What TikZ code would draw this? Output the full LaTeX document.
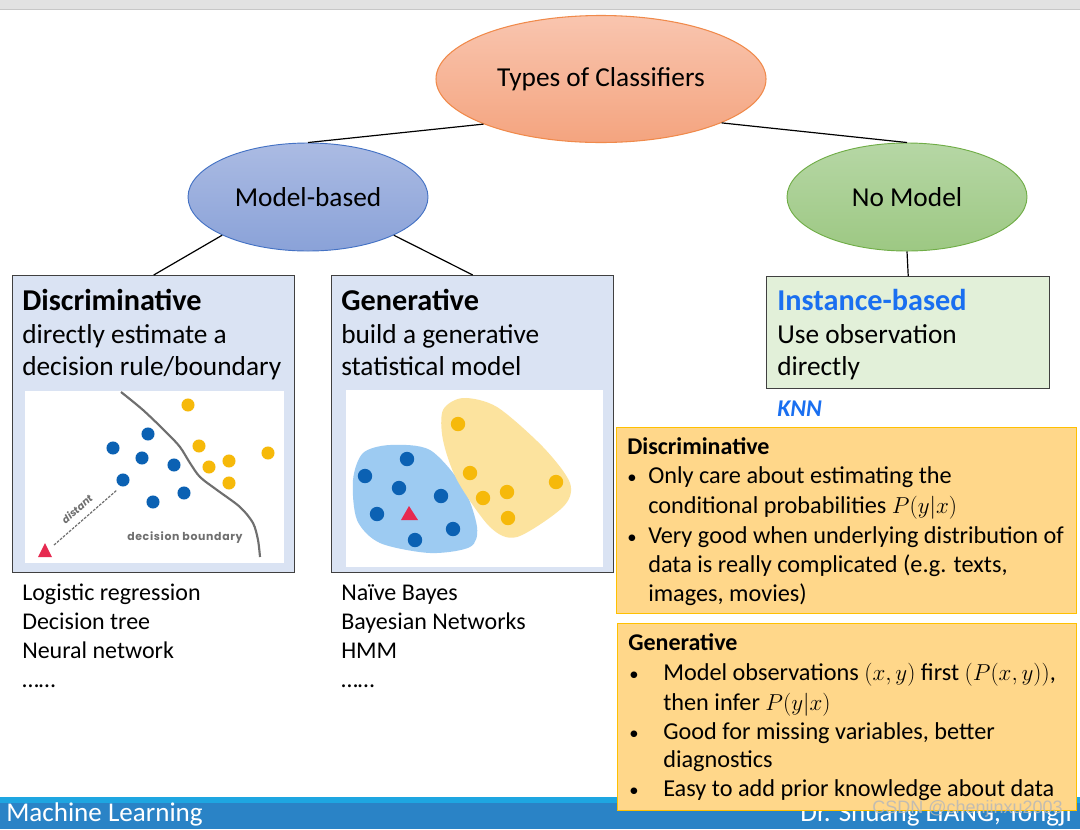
\documentclass[tikz,border=0pt]{standalone}
\usepackage{fontspec}
\setmainfont{Carlito}
\newfontfamily\geo{Poppins}
\newfontfamily\wm{Liberation Sans}
\usetikzlibrary{shapes.geometric}
\definecolor{salmonT}{HTML}{F9C5AF}
\definecolor{salmonB}{HTML}{F4A47F}
\definecolor{salmonD}{HTML}{F08A4B}
\definecolor{blueT}{HTML}{ABBBE3}
\definecolor{blueB}{HTML}{8AA2D8}
\definecolor{blueD}{HTML}{4472C4}
\definecolor{greenT}{HTML}{B6D7A5}
\definecolor{greenB}{HTML}{9DC883}
\definecolor{greenD}{HTML}{70AD47}
\definecolor{boxblue}{HTML}{DAE3F3}
\definecolor{boxgreen}{HTML}{E2F0D9}
\definecolor{boxedge}{HTML}{404040}
\definecolor{orfill}{HTML}{FFD78A}
\definecolor{oredge}{HTML}{FFC000}
\definecolor{linkblue}{HTML}{1A6FF0}
\definecolor{dotblue}{HTML}{0B61B3}
\definecolor{dotyellow}{HTML}{F6B90A}
\definecolor{blobblue}{HTML}{9DCBF2}
\definecolor{blobyellow}{HTML}{FCE39E}
\definecolor{trired}{HTML}{E62A50}
\definecolor{curvegray}{HTML}{6F6F6F}
\definecolor{barlight}{HTML}{1EA6E1}
\definecolor{bardark}{HTML}{2A83C6}
\definecolor{topgray}{HTML}{E2E2E2}
\tikzset{
  ell/.style={ellipse, inner sep=0pt, font=\fontsize{20.5}{24}\selectfont},
  conn/.style={draw=black, line width=0.9pt},
  panel/.style={draw=boxedge, line width=1.1pt, anchor=north west, inner sep=0pt},
  obox/.style={draw=oredge, fill=orfill, line width=0.8pt, anchor=north west, inner sep=0pt},
  txt/.style={anchor=base west, inner sep=0pt, font=\fontsize{20.5}{24}\selectfont},
  hd/.style={txt, font=\fontsize{22.7}{26}\selectfont\bfseries},
  lst/.style={anchor=base west, inner sep=0pt, font=\fontsize{18}{21}\selectfont},
  ohd/.style={anchor=base west, inner sep=0pt, font=\fontsize{18}{21}\selectfont\bfseries},
  otx/.style={anchor=base west, inner sep=0pt, font=\fontsize{18.2}{21}\selectfont},
  bul/.style={anchor=base west, inner sep=0pt, font=\fontsize{14}{21}\selectfont},
  bdot/.style={fill=dotblue},
  ydot/.style={fill=dotyellow},
}
\begin{document}
\begin{tikzpicture}[x=0.75pt,y=-0.75pt]
\useasboundingbox (0,0) rectangle (1080,829);
% top gray strip
\fill[topgray] (0,0) rectangle (1080,9);
\draw[color=black!22, line width=0.8pt] (0,9.5) -- (1080,9.5);

% ellipses
\node[ell, minimum width=247.5pt, minimum height=95.25pt, top color=salmonT, bottom color=salmonB, draw=salmonD, line width=0.8pt] (types) at (601,79) {Types of Classifiers};
\node[ell, minimum width=180pt, minimum height=81pt, top color=blueT, bottom color=blueB, draw=blueD, line width=0.7pt] (model) at (308,197) {Model-based};
\node[ell, minimum width=180pt, minimum height=81pt, top color=greenT, bottom color=greenB, draw=greenD, line width=0.7pt] (nomodel) at (907,197) {No Model};

% panels
\node[panel, fill=boxblue, minimum width=211.5pt, minimum height=222.75pt] (disc) at (12,275) {};
\node[panel, fill=boxblue, minimum width=211.5pt, minimum height=222.75pt] (gen) at (331,275) {};
\node[panel, fill=boxgreen, minimum width=212.25pt, minimum height=84pt] (inst) at (766,276) {};

% connectors
\draw[conn] (types.201) -- (model.north);
\draw[conn] (types.-20) -- (nomodel.north);
\draw[conn] (model.204) -- (disc.north);
\draw[conn] (model.-24) -- (gen.north);
\draw[conn] (nomodel.south) -- (inst.north);

% panel texts
\node[hd] (dh) at (22,310) {Discriminative};
\node[txt] (d1) at (22,343) {directly estimate a};
\node[txt] (d2) at (22,375) {decision rule/boundary};
\node[hd] (gh) at (341,310) {Generative};
\node[txt] (g1) at (341,343) {build a generative};
\node[txt] (g2) at (341,375) {statistical model};
\node[hd, text=linkblue] (ih) at (777,310) {Instance-based};
\node[txt] (i1) at (777,343) {Use observation};
\node[txt] (i2) at (777,375) {directly};
\node[anchor=base west, inner sep=0pt, text=linkblue, font=\fontsize{18}{21}\selectfont\bfseries\itshape] (knn) at (777,416) {KNN};

% discriminative image
\fill[white] (25,391) rectangle (284,563);
\draw[curvegray, line width=1.6pt] plot[smooth] coordinates {(121,392) (143,410) (167,433) (180,447) (190,463) (200,477) (217,490) (240,507) (253,523) (258,540) (260,557)};
\foreach \p in {(148,434),(113,448),(142,458),(174,465),(123,480),(153,502),(184,493)}
  \fill[bdot] \p circle[radius=4.9pt];
\foreach \p in {(188,405),(199,446),(209,467),(229,461),(268,453),(229,483)}
  \fill[ydot] \p circle[radius=4.9pt];
\fill[trired] (45,543) -- (38,557) -- (52,557) -- cycle;
\draw[curvegray, dashed, dash pattern=on 2pt off 1pt, line width=0.9pt] (54,545) -- (117,490);
\node[rotate=41, text=curvegray, inner sep=0pt, font=\geo\fontsize{7.5}{9}\selectfont\bfseries\itshape] (dist) at (77,509) {distant};
\node[anchor=base west, text=curvegray, inner sep=0pt, font=\geo\fontsize{8.2}{9}\selectfont\bfseries\addfontfeature{LetterSpace=6}] (db) at (127,540) {decision boundary};

% generative image
\fill[white] (346,390) rectangle (603,567);
\fill[blobblue] plot[smooth cycle] coordinates {(353,480) (363,453) (390,445) (430,450) (463,487) (477,527) (470,547) (430,553) (380,543) (357,520)};
\fill[blobyellow] plot[smooth cycle] coordinates {(443,410) (463,398) (497,407) (543,447) (570,483) (563,507) (517,537) (490,527) (457,480) (443,440)};
\foreach \p in {(407,459),(365,476),(399,488),(441,496),(377,514),(453,529),(415,540)}
  \fill[bdot] \p circle[radius=5.4pt];
\foreach \p in {(458,424),(470,473),(483,498),(507,492),(556,482),(508,518)}
  \fill[ydot] \p circle[radius=5.4pt];
\fill[trired] (409,506) -- (401,520) -- (418,520) -- cycle;

% lists
\node[lst] (l1) at (22,600) {Logistic regression};
\node[lst] (l2) at (22,629) {Decision tree};
\node[lst] (l3) at (22,658) {Neural network};
\node[lst] (l4) at (22,687) {\dots\dots};
\node[lst] (m1) at (341,600) {Naïve Bayes};
\node[lst] (m2) at (341,629) {Bayesian Networks};
\node[lst] (m3) at (341,658) {HMM};
\node[lst] (m4) at (341,687) {\dots\dots};

% bottom bar
\fill[barlight] (0,797) rectangle (1080,803);
\fill[bardark] (0,803) rectangle (1080,829);
\node[anchor=base west, inner sep=0pt, text=white, font=\fontsize{20.3}{24}\selectfont] (ml) at (6,821.5) {Machine Learning};
\node[anchor=base east, inner sep=0pt, text=white, font=\fontsize{20.3}{24}\selectfont] (dr) at (1072,821.5) {Dr. Shuang LIANG, Tongji};

% orange box 1
\node[obox, minimum width=345pt, minimum height=139.5pt] (ob1) at (616,427) {};
\node[ohd] (o1h) at (627,454) {Discriminative};
\node[bul] (o1b1) at (627,483) {•};
\node[otx] (o1a) at (648,483) {Only care about estimating the};
\node[otx] (o1b) at (648,513) {conditional probabilities $P(y|x)$};
\node[bul] (o1b2) at (627,543) {•};
\node[otx] (o1c) at (648,543) {Very good when underlying distribution of};
\node[otx] (o1d) at (648,572) {data is really complicated (e.g. texts,};
\node[otx] (o1e) at (648,601) {images, movies)};

% orange box 2
\node[obox, minimum width=344.25pt, minimum height=140.25pt] (ob2) at (617,623) {};
\node[ohd] (o2h) at (628,650) {Generative};
\node[bul] (o2b1) at (629,680) {•};
\node[otx] (o2a) at (663,680) {Model observations $(x,y)$ first $(P(x,y))$,};
\node[otx] (o2b) at (663,710) {then infer $P(y|x)$};
\node[bul] (o2b2) at (629,739) {•};
\node[otx] (o2c) at (663,739) {Good for missing variables, better};
\node[otx] (o2d) at (663,767) {diagnostics};
\node[bul] (o2b3) at (629,796) {•};
\node[otx] (o2e) at (663,796) {Easy to add prior knowledge about data};

% watermark
\node[anchor=base west, inner sep=0pt, text=black!28, opacity=0.85, font=\wm\fontsize{13.5}{16}\selectfont] (wmk) at (872,813) {CSDN @chenjinxu2003};
\end{tikzpicture}
\end{document}
